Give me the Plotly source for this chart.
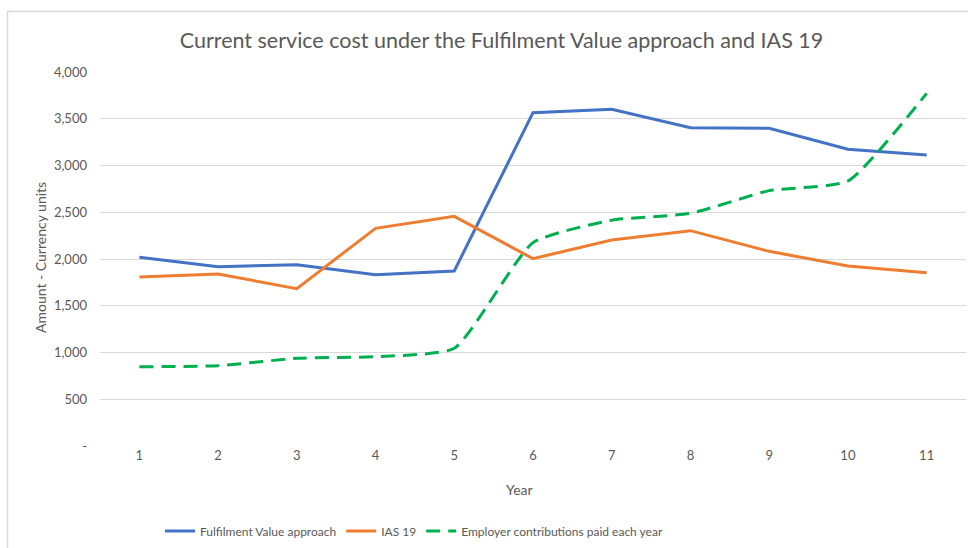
import plotly.graph_objects as go

years = list(range(1, 12))
fulfilment = [2018, 1918, 1939, 1832, 1872, 3565, 3601, 3405, 3398, 3173, 3112]
ias19 = [1807, 1840, 1683, 2328, 2456, 2004, 2203, 2303, 2082, 1925, 1854]
employer = [848, 859, 938, 955, 1045, 2175, 2415, 2488, 2731, 2834, 3772]

ytick_vals = [0, 500, 1000, 1500, 2000, 2500, 3000, 3500, 4000]
ytick_text = ["-", "500", "1,000", "1,500", "2,000", "2,500", "3,000", "3,500", "4,000"]

FONT = "Lato, Open Sans, sans-serif"
GREY = "#595959"

# plot area geometry (pixels)
L, R, T, B = 100, 3, 72, 102
PW, PH = 969 - L - R, 548 - T - B

fig = go.Figure()
fig.add_trace(go.Scatter(x=years, y=fulfilment, mode="lines", name="Fulfilment Value approach",
                         line=dict(color="#4472C4", width=3)))
fig.add_trace(go.Scatter(x=years, y=ias19, mode="lines", name="IAS 19",
                         line=dict(color="#ED7D31", width=3)))
fig.add_trace(go.Scatter(x=years, y=employer, mode="lines", name="Employer contributions paid each year",
                         line=dict(color="#00B050", width=3, dash="14px,8px", shape="spline", smoothing=0.5)))

fig.update_layout(
    width=969, height=548,
    margin=dict(l=L, r=R, t=T, b=B, autoexpand=False),
    paper_bgcolor="white", plot_bgcolor="white",
    font=dict(family=FONT, color=GREY, size=12),
    title=dict(text="Current service cost under the Fulfilment Value approach and IAS 19",
               x=(501.5) / 969, xref="container", xanchor="center", y=1 - 40 / 548, yref="container",
               yanchor="middle", font=dict(size=21.5, color=GREY, family=FONT)),
    showlegend=True,
    legend=dict(orientation="h", x=(414 - L) / PW, xanchor="center", y=(T + PH - 531) / PH,
                yanchor="middle", font=dict(size=12, color=GREY), traceorder="normal", itemwidth=30),
    xaxis=dict(range=[0.5, 11.5], tickvals=years, ticktext=[str(y) for y in years],
               showgrid=False, zeroline=False, showline=False, ticks="", automargin=False,
               tickfont=dict(size=13, color=GREY)),
    yaxis=dict(range=[0, 4000], tickvals=ytick_vals, ticktext=ytick_text,
               showgrid=True, gridcolor="#D9D9D9", gridwidth=1, zeroline=False, showline=False,
               ticks="", ticklabelstandoff=12, automargin=False, tickfont=dict(size=13, color=GREY)),
    annotations=[
        dict(text="Year", xref="paper", yref="paper", x=(519 - L) / PW, y=(T + PH - 489) / PH,
             xanchor="center", yanchor="middle", showarrow=False, font=dict(size=14, color=GREY)),
        dict(text="Amount - Currency units", xref="paper", yref="paper", x=(40 - L) / PW,
             y=(T + PH - 258) / PH, xanchor="center", yanchor="middle", textangle=-90,
             showarrow=False, font=dict(size=14, color=GREY)),
    ],
)

# chart-area border (top and left edges visible in the reference)
x_left = (7.5 - L) / PW
y_top = (T + PH - 11.5) / PH
y_bot = (T + PH - 548) / PH
x_right = (968 - L) / PW
fig.add_shape(type="line", xref="paper", yref="paper", x0=x_left, x1=x_right, y0=y_top, y1=y_top,
              line=dict(color="#D9D9D9", width=1.5), layer="below")
fig.add_shape(type="line", xref="paper", yref="paper", x0=x_left, x1=x_left, y0=y_bot, y1=y_top,
              line=dict(color="#D9D9D9", width=1.5), layer="below")

fig.write_html("out.html", config={"displayModeBar": False},
               post_script="document.body.style.margin='0px';document.body.style.overflow='hidden';")
